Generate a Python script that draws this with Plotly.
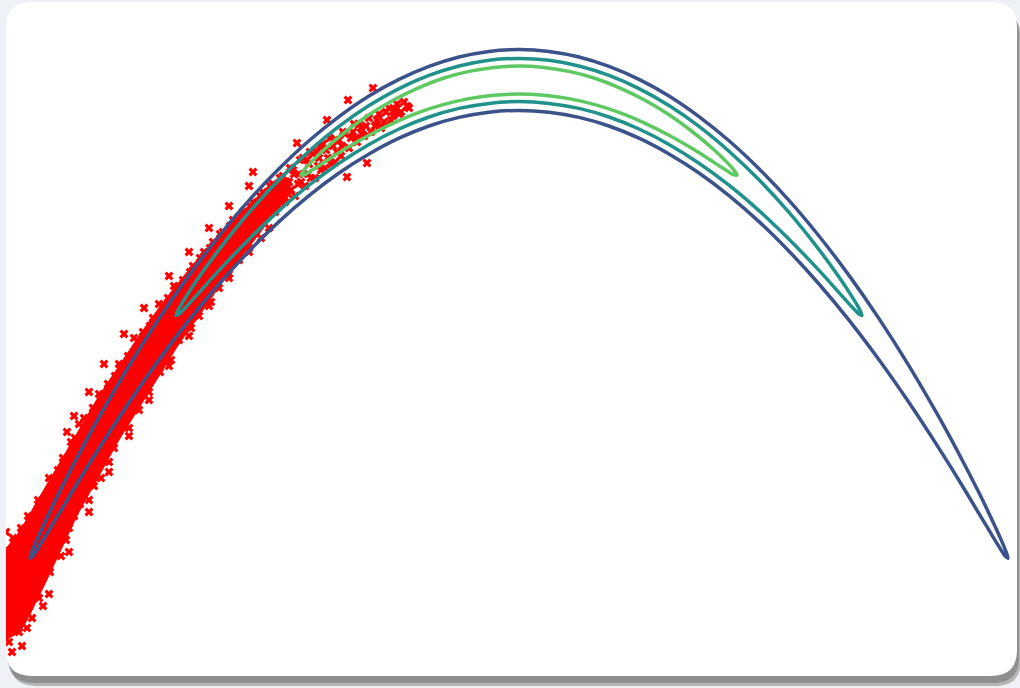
import plotly.graph_objects as go

# ---- red samples (x, y) ----
sample_x = [
    -5.15, -5.14, -5.13, -5.13, -5.11, -5.09, -5.10, -5.08, -5.06, -5.04, -5.05, -5.03,
    -5.01, -4.99, -5.00, -4.98, -4.96, -4.94, -4.95, -4.91, -4.89, -4.90, -4.88,
    -4.86, -4.84, -4.85, -4.81, -4.79, -4.80, -4.78, -4.76, -4.74, -4.75,
    -4.71, -4.69, -4.70, -4.68, -4.66, -4.64, -4.65, -4.61, -4.59, -4.60, -4.58,
    -4.56, -4.54, -4.55, -4.53, -4.51, -4.49, -4.50, -4.48, -4.46, -4.44, -4.45,
    -4.41, -4.39, -4.40, -4.38, -4.36, -4.34, -4.35, -4.31, -4.29, -4.30, -4.28,
    -4.26, -4.24, -4.25, -4.21, -4.19, -4.20, -4.18, -4.16, -4.14, -4.15,
    -4.11, -4.09, -4.10, -4.08, -4.06, -4.04, -4.05, -4.01, -3.99, -4.00, -3.98,
    -3.96, -3.94, -3.95, -3.91, -3.89, -3.90, -3.88, -3.86, -3.84, -3.85,
    -3.81, -3.79, -3.80, -3.78, -3.76, -3.74, -3.75, -3.71, -3.69, -3.70, -3.68,
    -3.66, -3.64, -3.65, -3.61, -3.59, -3.60, -3.58, -3.56, -3.54, -3.55,
    -3.51, -3.49, -3.50, -3.48,
    -3.46, -3.44, -3.45, -3.41, -3.39, -3.40, -3.38, -3.36, -3.34, -3.35,
    -3.31, -3.29, -3.30, -3.28, -3.26, -3.24, -3.25, -3.21, -3.19, -3.20, -3.18,
    -3.16, -3.14, -3.15, -3.11, -3.09, -3.10, -3.08, -3.06, -3.04, -3.05,
    -3.01, -2.99, -3.00, -2.98, -2.96, -2.94, -2.95, -2.91, -2.89, -2.90,
    -2.86, -2.84, -2.85, -2.81, -2.79, -2.80, -2.78, -2.76, -2.74,
    -2.71, -2.69, -2.70, -2.66, -2.64, -2.61, -2.59, -2.60, -2.58, -2.56, -2.54,
    -2.51, -2.49, -2.50,
    -2.46, -2.44, -2.41, -2.39, -2.40, -2.36, -2.34, -2.31, -2.29, -2.30,
    -2.26, -2.24, -2.21, -2.19, -2.20, -2.16, -2.14, -2.11, -2.09, -2.10,
    -2.06, -2.04, -2.01, -1.99, -2.00, -1.96, -1.94, -1.91, -1.89, -1.86, -1.84,
    -1.80, -1.78, -1.76, -1.72, -1.71, -1.68, -1.65, -1.62, -1.58, -1.55, -1.52,
    -1.50, -1.46, -1.44, -1.40, -1.35, -1.30, -1.26, -1.22, -1.18, -1.12,
    -1.92, -2.22, -2.66,
    -2.28, -2.25, -2.18, -2.12, -2.08, -2.02, -1.98, -1.93, -1.88, -1.83, -1.82,
    -1.77, -1.74, -1.70, -1.66, -1.63, -1.60, -1.57, -1.53, -1.48, -1.42, -1.38,
    -1.33, -1.28, -1.24, -1.20, -1.15, -1.10,
    -4.45, -4.52, -4.30, -4.15, -3.95, -3.75, -3.50, -3.30, -3.10, -2.90, -2.70,
    -4.70, -4.50, -4.30, -4.10, -3.90, -3.70, -3.50, -3.30, -3.10, -2.90, -2.70, -2.50,
    -4.92, -4.87, -4.76, -4.97, -5.07,
]
sample_y = [
    -24.2, -27.8, -25.6, -22.6, -23.9, -26.9, -28.1, -25.1, -22.9, -24.6, -27.3, -26.1,
    -23.4, -25.8, -27.6, -22.4, -24.9, -26.4, -23.1, -21.8, -24.7, -26.3, -23.2,
    -22.3, -25.6, -24.1, -21.0, -23.6, -25.9, -22.2, -24.3, -20.9, -23.0,
    -21.6, -24.6, -19.9, -22.8, -23.3, -20.6, -22.0, -19.5, -22.7, -21.3, -23.8,
    -18.9, -21.9, -20.4, -23.0, -19.0, -21.3, -22.4, -18.1, -20.5, -17.9, -21.8,
    -19.1, -21.2, -17.2, -20.2, -18.3, -20.6, -16.9, -19.6, -17.6, -21.0, -18.7,
    -16.4, -19.0, -20.3, -17.1, -18.8, -15.7, -19.9, -16.5, -18.3, -17.4,
    -15.2, -17.9, -19.1, -16.3, -17.0, -14.8, -18.4, -15.6, -17.3, -14.2, -16.6,
    -16.9, -14.7, -15.3, -13.8, -16.2, -17.4, -15.0, -14.1, -16.0, -12.9,
    -15.3, -13.2, -16.5, -14.6, -12.6, -14.9, -13.7, -14.2, -12.3, -15.6, -13.3,
    -11.9, -14.4, -13.1, -12.4, -14.6, -11.2, -13.5, -13.8, -11.6, -12.2,
    -10.9, -13.1, -12.5, -14.0,
    -11.0, -12.8, -10.3, -12.1, -10.5, -13.0, -11.3, -10.0, -12.3, -11.5,
    -11.8, -9.6, -10.6, -12.4, -9.3, -11.2, -10.1, -10.9, -8.9, -11.8, -9.8,
    -9.4, -10.8, -8.6, -10.3, -8.4, -9.2, -11.1, -8.1, -9.9, -8.9,
    -9.6, -7.7, -10.4, -8.5, -7.6, -9.3, -8.4, -8.9, -7.3, -9.7,
    -7.0, -8.6, -7.8, -8.5, -6.8, -9.0, -7.5, -6.6, -8.0,
    -7.6, -6.3, -8.4, -6.1, -7.4, -7.3, -5.8, -6.5, -7.9, -5.6, -6.9,
    -6.8, -5.3, -6.1,
    -5.2, -6.6, -6.3, -4.9, -5.6, -4.8, -6.1, -5.7, -4.4, -5.1,
    -4.5, -5.8, -5.2, -4.0, -4.7, -3.9, -5.3, -4.7, -3.6, -4.2,
    -3.7, -4.9, -4.3, -3.3, -3.9, -3.2, -4.4, -3.9, -2.9, -3.3, -4.1,
    -3.0, -3.8, -2.6, -4.85, -1.0, -2.9, -2.2, -3.1, -2.4, -2.8, -4.15,
    -1.9, -0.4, -2.3, -1.7, -2.1, -1.4, -1.8, -1.2, -1.6, -1.3,
    -2.0, -3.15, -4.6,
    -5.5, -4.7, -5.1, -4.0, -4.9, -3.6, -4.5, -3.5, -4.2, -3.0, -3.6,
    -3.3, -2.7, -3.4, -2.6, -2.9, -2.2, -2.7, -2.3, -2.6, -2.0, -2.4,
    -1.6, -2.0, -1.5, -1.7, -1.1, -1.4,
    -16.8, -17.6, -15.6, -14.2, -12.7, -11.4, -9.8, -8.6, -7.4, -6.3, -5.3,
    -25.7, -23.6, -21.6, -19.6, -17.8, -16.0, -14.3, -12.8, -11.3, -9.9, -8.6, -7.4,
    -27.4, -26.9, -26.3, -28.3, -28.6,
]

# dense core of the sample cloud (outline)
core_x = [-5.16, -5.0, -4.8, -4.6, -4.4, -4.2, -4.0, -3.8, -3.6, -3.4, -3.2, -3.0, -2.8, -2.6, -2.45, -2.3,
          -2.3, -2.45, -2.6, -2.8, -3.0, -3.2, -3.4, -3.6, -3.8, -4.0, -4.2, -4.4, -4.6, -4.8, -5.0, -5.16]
core_y = [-23.6, -22.6, -20.9, -19.2, -17.5, -15.8, -14.3, -12.8, -11.4, -10.1, -8.9, -7.8, -6.8, -5.9, -5.3, -4.9,
          -5.7, -6.7, -7.7, -9.0, -10.35, -11.8, -13.2, -14.8, -16.4, -18.0, -19.8, -21.6, -23.7, -25.8, -27.6, -28.0]

# ---- contour lines (closed loops) ----
outer_x = [-4.89, -4.86, -4.8, -4.7, -4.6, -4.4, -4.2, -3.9, -3.6, -3.3, -3.0, -2.7, -2.4, -2.1, -1.8, -1.5, -1.2, -0.9, -0.6, -0.3, 0.0,
           0.3, 0.6, 0.9, 1.2, 1.5, 1.8, 2.1, 2.4, 2.7, 3.0, 3.3, 3.6, 3.9, 4.2, 4.4, 4.6, 4.7, 4.8, 4.86, 4.89,
           4.86, 4.8, 4.7, 4.6, 4.4, 4.2, 3.9, 3.6, 3.3, 3.0, 2.7, 2.4, 2.1, 1.8, 1.5, 1.2, 0.9, 0.6, 0.3, 0.0,
           -0.3, -0.6, -0.9, -1.2, -1.5, -1.8, -2.1, -2.4, -2.7, -3.0, -3.3, -3.6, -3.9, -4.2, -4.4, -4.6, -4.7, -4.8, -4.86, -4.89]
outer_y = [-23.91, -23.45, -22.75, -21.67, -20.64, -18.70, -16.86, -14.29, -11.93, -9.77, -7.80, -6.02, -4.44, -3.04, -1.83, -0.80, 0.03, 0.68, 1.15, 1.43, 1.52,
           1.43, 1.15, 0.68, 0.03, -0.80, -1.83, -3.04, -4.44, -6.02, -7.80, -9.77, -11.93, -14.29, -16.86, -18.70, -20.64, -21.67, -22.75, -23.45, -23.91,
           -23.79, -23.33, -22.51, -21.68, -20.02, -18.42, -16.13, -13.99, -12.01, -10.20, -8.56, -7.08, -5.78, -4.65, -3.70, -2.91, -2.30, -1.87, -1.61, -1.52,
           -1.61, -1.87, -2.30, -2.91, -3.70, -4.65, -5.78, -7.08, -8.56, -10.20, -12.01, -13.99, -16.13, -18.42, -20.02, -21.68, -22.51, -23.33, -23.79, -23.91]

middle_x = [-3.43, -3.4, -3.33, -3.2, -3.0, -2.7, -2.4, -2.1, -1.8, -1.5, -1.2, -0.9, -0.6, -0.3, 0.0,
            0.3, 0.6, 0.9, 1.2, 1.5, 1.8, 2.1, 2.4, 2.7, 3.0, 3.2, 3.33, 3.4, 3.43,
            3.4, 3.33, 3.2, 3.0, 2.7, 2.4, 2.1, 1.8, 1.5, 1.2, 0.9, 0.6, 0.3, 0.0,
            -0.3, -0.6, -0.9, -1.2, -1.5, -1.8, -2.1, -2.4, -2.7, -3.0, -3.2, -3.33, -3.4, -3.43]
middle_y = [-11.77, -11.42, -10.83, -9.85, -8.48, -6.62, -4.99, -3.56, -2.32, -1.28, -0.43, 0.23, 0.70, 0.99, 1.08,
            0.99, 0.70, 0.23, -0.43, -1.28, -2.32, -3.56, -4.99, -6.62, -8.48, -9.85, -10.83, -11.42, -11.77,
            -11.70, -11.35, -10.63, -9.52, -7.96, -6.53, -5.26, -4.16, -3.22, -2.45, -1.85, -1.42, -1.17, -1.08,
            -1.17, -1.42, -1.85, -2.45, -3.22, -4.16, -5.26, -6.53, -7.96, -9.52, -10.63, -11.35, -11.70, -11.77]

inner_x = [-2.18, -2.15, -2.08, -1.95, -1.75, -1.5, -1.25, -1.0, -0.75, -0.5, -0.25, 0.0,
           0.25, 0.5, 0.75, 1.0, 1.25, 1.5, 1.75, 1.95, 2.08, 2.15, 2.18,
           2.15, 2.08, 1.95, 1.75, 1.5, 1.25, 1.0, 0.75, 0.5, 0.25, 0.0,
           -0.25, -0.5, -0.75, -1.0, -1.25, -1.5, -1.75, -1.95, -2.08, -2.15, -2.18]
inner_y = [-4.75, -4.51, -4.12, -3.49, -2.65, -1.74, -0.99, -0.38, 0.10, 0.43, 0.63, 0.70,
           0.63, 0.43, 0.10, -0.38, -0.99, -1.74, -2.65, -3.49, -4.12, -4.51, -4.75,
           -4.74, -4.54, -4.12, -3.48, -2.76, -2.14, -1.62, -1.22, -0.93, -0.76, -0.70,
           -0.76, -0.93, -1.22, -1.62, -2.14, -2.76, -3.48, -4.12, -4.54, -4.74, -4.75]

contour_colors = ["#3b528b", "#21918c", "#5ec962"]

X_RANGE = [-5.13, 4.98]
Y_RANGE = [-29.8, 3.9]

fig = go.Figure()
fig.add_trace(go.Scatter(
    x=core_x, y=core_y, mode="lines", fill="toself", fillcolor="#ff0000",
    line=dict(color="#ff0000", width=1, shape="spline", smoothing=0.8),
    showlegend=False, hoverinfo="skip",
))
fig.add_trace(go.Scatter(
    x=sample_x, y=sample_y, mode="markers",
    marker=dict(symbol="x", size=8, color="#ff0000", line=dict(width=0)),
    showlegend=False, hoverinfo="skip",
))
# contour lines on an overlaid axis pair so they stay above the samples
for cx, cy, col in [(outer_x, outer_y, contour_colors[0]),
                    (middle_x, middle_y, contour_colors[1]),
                    (inner_x, inner_y, contour_colors[2])]:
    fig.add_trace(go.Scatter(
        x=cx, y=cy, mode="lines", xaxis="x2", yaxis="y2",
        line=dict(color=col, width=3.5, shape="spline", smoothing=1.0),
        showlegend=False, hoverinfo="skip",
    ))

# rounded white card with a soft shadow
W, H = 1011.0, 674.0
rx, ry = 26 / W, 26 / H


def card_path(dx=0.0, dy=0.0):
    def p(x, y):
        return f"{x + dx:.5f},{y + dy:.5f}"
    return (f"M{p(rx, 0)} L{p(1 - rx, 0)} Q{p(1, 0)} {p(1, ry)} L{p(1, 1 - ry)} "
            f"Q{p(1, 1)} {p(1 - rx, 1)} L{p(rx, 1)} Q{p(0, 1)} {p(0, 1 - ry)} "
            f"L{p(0, ry)} Q{p(0, 0)} {p(rx, 0)} Z")


fig.add_shape(type="path", xref="paper", yref="paper", path=card_path(4 / W, -10 / H),
              fillcolor="#b5b5b5", line=dict(width=0), layer="below")
fig.add_shape(type="path", xref="paper", yref="paper", path=card_path(2 / W, -7 / H),
              fillcolor="#8f8f8f", line=dict(width=0), layer="below")
fig.add_shape(type="path", xref="paper", yref="paper", path=card_path(),
              fillcolor="#ffffff", line=dict(width=0), layer="below")

fig.update_layout(
    width=1020, height=688,
    margin=dict(l=6, r=3, t=2, b=12),
    paper_bgcolor="#eef2f6",
    plot_bgcolor="rgba(0,0,0,0)",
    xaxis=dict(range=X_RANGE, visible=False),
    yaxis=dict(range=Y_RANGE, visible=False),
    xaxis2=dict(range=X_RANGE, visible=False, overlaying="x"),
    yaxis2=dict(range=Y_RANGE, visible=False, overlaying="y"),
)
fig.write_html("out.html")
